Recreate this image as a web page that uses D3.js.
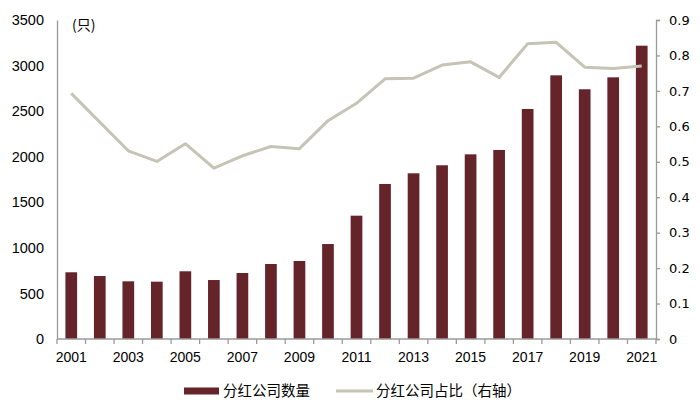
<!DOCTYPE html>
<html>
<head>
<meta charset="utf-8">
<script src="https://cdn.jsdelivr.net/npm/d3@7"></script>
<style>
  body { margin: 0; background: #fff; }
  svg text { font-family: "Liberation Sans", Arial, sans-serif; fill: #000; }
</style>
</head>
<body>
<div id="chart"></div>
<script>
// data
const years = ["2001","2002","2003","2004","2005","2006","2007","2008","2009","2010","2011",
               "2012","2013","2014","2015","2016","2017","2018","2019","2020","2021"];
const dividendCount = [732, 691, 633, 629, 743, 647, 724, 823, 856, 1042, 1353,
                       1701, 1818, 1906, 2026, 2074, 2524, 2893, 2740, 2871, 3218];
const dividendShare = [0.693, 0.612, 0.531, 0.501, 0.551, 0.482, 0.517, 0.543, 0.537, 0.616, 0.665,
                       0.734, 0.736, 0.773, 0.782, 0.738, 0.833, 0.837, 0.767, 0.763, 0.770];
const leftTicks = [0, 500, 1000, 1500, 2000, 2500, 3000, 3500];
const rightTicks = [0, 0.1, 0.2, 0.3, 0.4, 0.5, 0.6, 0.7, 0.8, 0.9];
const xLabels = ["2001","2003","2005","2007","2009","2011","2013","2015","2017","2019","2021"];
const seriesNames = ["分红公司数量", "分红公司占比（右轴）"];
const unitLabel = "(只)";

const barColor = "#65242A";
const lineColor = "#C5C4B6";
const axisColor = "#9a9a9a";

const width = 700, height = 415;
const margin = {top: 20, right: 44, bottom: 76, left: 57};
const innerW = width - margin.left - margin.right,
      innerH = height - margin.top - margin.bottom;

const svg = d3.select("#chart").append("svg")
    .attr("width", width)
    .attr("height", height);

const g = svg.append("g")
    .attr("transform", `translate(${margin.left},${margin.top})`);

// scales
const x = d3.scaleBand().domain(years).range([0, innerW]).paddingInner(0.59).paddingOuter(0.295);
const xBand = d3.scaleBand().domain(years).range([0, innerW]);
const yL = d3.scaleLinear().domain([0, 3500]).range([innerH, 0]);
const yR = d3.scaleLinear().domain([0, 0.9]).range([innerH, 0]);

// bars
g.selectAll("rect.bar")
    .data(dividendCount)
    .enter()
    .append("rect")
    .attr("class", "bar")
    .attr("x", (d, i) => x(years[i]))
    .attr("y", d => yL(d))
    .attr("width", x.bandwidth())
    .attr("height", d => innerH - yL(d))
    .attr("fill", barColor);

// line
g.append("path")
    .datum(dividendShare)
    .attr("fill", "none")
    .attr("stroke", lineColor)
    .attr("stroke-width", 3)
    .attr("stroke-linejoin", "round")
    .attr("d", d3.line()
        .x((d, i) => xBand(years[i]) + xBand.bandwidth() / 2)
        .y(d => yR(d)));

// left axis (line only, no ticks)
const leftAxis = g.append("g")
    .call(d3.axisLeft(yL).tickValues(leftTicks).tickSize(0).tickPadding(13).tickFormat(d3.format("d")));
leftAxis.select(".domain").attr("stroke", axisColor).attr("stroke-width", 1.3);
leftAxis.selectAll("text").style("font-size", "14.5px");

// right axis
const rightAxis = g.append("g")
    .attr("transform", `translate(${innerW},0)`)
    .call(d3.axisRight(yR).tickValues(rightTicks).tickSize(4).tickSizeOuter(4).tickPadding(9)
        .tickFormat(d => d === 0 ? "0" : d3.format(".1f")(d)));
rightAxis.select(".domain").attr("stroke", axisColor).attr("stroke-width", 1.3);
rightAxis.selectAll("line").attr("stroke", axisColor).attr("stroke-width", 1.3);
rightAxis.selectAll("text")
    .style("font-family", "'DejaVu Sans', Verdana, sans-serif")
    .style("font-size", "13px");

// bottom axis: ticks at category boundaries
const bottom = g.append("g").attr("transform", `translate(0,${innerH})`);
bottom.append("line")
    .attr("x1", 0).attr("x2", innerW)
    .attr("stroke", axisColor).attr("stroke-width", 1.3);
bottom.selectAll("line.tick")
    .data(years.concat(["end"]))
    .enter()
    .append("line")
    .attr("class", "tick")
    .attr("x1", (d, i) => i < years.length ? xBand(d) : innerW)
    .attr("x2", (d, i) => i < years.length ? xBand(d) : innerW)
    .attr("y1", 0).attr("y2", 5)
    .attr("stroke", axisColor).attr("stroke-width", 1.3);
bottom.selectAll("text")
    .data(xLabels)
    .enter()
    .append("text")
    .attr("x", d => xBand(d) + xBand.bandwidth() / 2)
    .attr("y", 23)
    .attr("text-anchor", "middle")
    .style("font-size", "14px")
    .text(d => d);

// unit label
g.append("text")
    .attr("x", 15)
    .attr("y", 10)
    .style("font-size", "14px")
    .style("font-family", "'Noto Sans CJK SC', sans-serif")
    .text(unitLabel);

// legend
const legend = svg.append("g").attr("transform", "translate(184,391)");
legend.append("rect")
    .attr("x", 0).attr("y", -3.5)
    .attr("width", 35).attr("height", 7)
    .attr("fill", barColor);
legend.append("text")
    .attr("x", 39).attr("y", 5)
    .style("font-family", "'Noto Sans CJK SC', sans-serif")
    .style("font-size", "14.5px")
    .text(seriesNames[0]);
legend.append("line")
    .attr("x1", 152).attr("x2", 189)
    .attr("stroke", lineColor).attr("stroke-width", 3);
legend.append("text")
    .attr("x", 192).attr("y", 5)
    .style("font-family", "'Noto Sans CJK SC', sans-serif")
    .style("font-size", "14.5px")
    .text(seriesNames[1]);
</script>
</body>
</html>
